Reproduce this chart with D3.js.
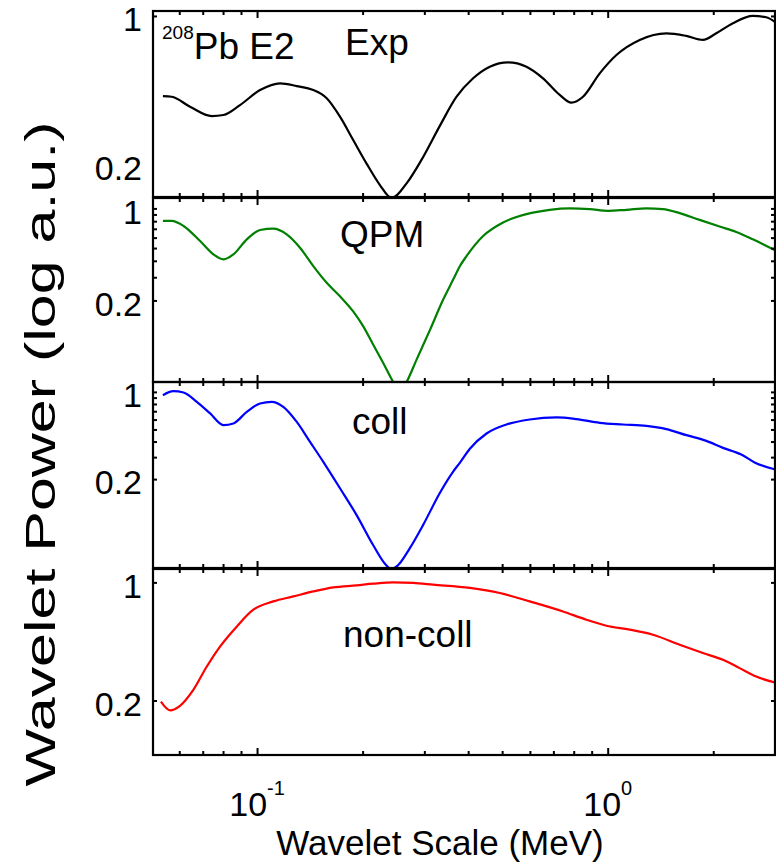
<!DOCTYPE html>
<html>
<head>
<meta charset="utf-8">
<script src="https://cdn.jsdelivr.net/npm/d3@7/dist/d3.min.js"></script>
<style>
	body { margin: 0; background: #fff; }
	svg text { font-family: 'Liberation Sans', Arial, sans-serif; fill: #000; }
</style>
</head>
<body>
<svg id="chart" width="776" height="865"></svg>
<script>
// wavelet scale (MeV) / power (a.u.)
const expScale = [0.0539, 0.0571, 0.0644, 0.0743, 0.0802, 0.0894, 0.102, 0.1163, 0.1298, 0.1447, 0.158, 0.1724, 0.188, 0.2053, 0.2241, 0.2419, 0.267, 0.2977, 0.3321, 0.3707, 0.4133, 0.4611, 0.52, 0.5866, 0.654, 0.7297, 0.788, 0.8504, 0.949, 1.059, 1.234, 1.47, 1.676, 1.869, 2.04, 2.275, 2.594, 2.832, 2.99];
const expPower = [0.421, 0.418, 0.375, 0.339, 0.343, 0.382, 0.449, 0.483, 0.469, 0.449, 0.411, 0.337, 0.262, 0.203, 0.161, 0.14, 0.164, 0.218, 0.305, 0.418, 0.51, 0.578, 0.606, 0.578, 0.51, 0.426, 0.392, 0.418, 0.538, 0.656, 0.772, 0.829, 0.806, 0.772, 0.829, 0.924, 1.0, 0.986, 0.94];

const qpmScale = [0.0539, 0.0571, 0.0617, 0.0688, 0.0751, 0.0802, 0.0856, 0.0935, 0.102, 0.1113, 0.1215, 0.1326, 0.1447, 0.158, 0.1724, 0.188, 0.2009, 0.2145, 0.229, 0.2445, 0.2555, 0.267, 0.2851, 0.3111, 0.3395, 0.3625, 0.3787, 0.3957, 0.4413, 0.5031, 0.5866, 0.6835, 0.7794, 0.8887, 1.002, 1.131, 1.289, 1.437, 1.604, 1.829, 2.085, 2.326, 2.594, 2.99];
const qpmPower = [0.804, 0.804, 0.736, 0.565, 0.447, 0.41, 0.447, 0.582, 0.686, 0.703, 0.636, 0.503, 0.364, 0.272, 0.215, 0.165, 0.127, 0.092, 0.067, 0.048, 0.04, 0.048, 0.071, 0.119, 0.203, 0.288, 0.364, 0.434, 0.617, 0.782, 0.905, 0.976, 1.0, 0.988, 0.959, 0.976, 1.0, 0.988, 0.921, 0.818, 0.728, 0.662, 0.582, 0.483];

const collScale = [0.0539, 0.0577, 0.0617, 0.0673, 0.0735, 0.0802, 0.0856, 0.0935, 0.102, 0.1101, 0.1188, 0.1298, 0.1416, 0.1545, 0.1724, 0.1923, 0.2145, 0.2316, 0.2419, 0.2527, 0.2728, 0.2977, 0.3321, 0.3625, 0.3787, 0.4045, 0.4513, 0.5145, 0.5994, 0.7142, 0.8145, 0.949, 1.105, 1.289, 1.47, 1.676, 1.911, 2.131, 2.404, 2.623, 2.99];
const collPower = [0.941, 1.013, 0.989, 0.832, 0.672, 0.541, 0.558, 0.692, 0.808, 0.832, 0.759, 0.575, 0.398, 0.275, 0.169, 0.103, 0.059, 0.042, 0.038, 0.041, 0.056, 0.086, 0.155, 0.23, 0.27, 0.35, 0.464, 0.548, 0.601, 0.624, 0.605, 0.565, 0.548, 0.534, 0.503, 0.45, 0.405, 0.356, 0.315, 0.272, 0.24];

const nonScale = [0.0532, 0.0565, 0.0603, 0.0658, 0.0719, 0.0785, 0.0876, 0.0976, 0.1113, 0.1269, 0.1447, 0.165, 0.1923, 0.2145, 0.2445, 0.2788, 0.3178, 0.4045, 0.4924, 0.5994, 0.7458, 0.8696, 0.9915, 1.155, 1.346, 1.604, 1.869, 2.131, 2.377, 2.652, 2.99];
const nonPower = [0.197, 0.175, 0.186, 0.231, 0.318, 0.418, 0.549, 0.689, 0.772, 0.826, 0.884, 0.934, 0.96, 0.982, 1.0, 0.992, 0.969, 0.927, 0.865, 0.772, 0.673, 0.601, 0.554, 0.525, 0.49, 0.428, 0.382, 0.348, 0.311, 0.277, 0.256];

const panelNames = ['Exp', 'QPM', 'coll', 'non-coll'];
const panelColors = ['#000000', '#008000', '#0000ff', '#ff0000'];
const yDomains = [[0.1415, 1.055], [0.048, 1.2], [0.0388, 1.2], [0.0952, 1.2]];
const yTickLabels = [1, 0.2];
const logMinor = [0.2, 0.3, 0.4, 0.5, 0.6, 0.7, 0.8, 0.9, 1];
const yTickMarks = [[1], logMinor, logMinor, [0.2, 1]];
const xDomain = [0.0505, 3.0];
const xMajor = [0.1, 1];
const xMinor = [0.06, 0.07, 0.08, 0.09, 0.2, 0.3, 0.4, 0.5, 0.6, 0.7, 0.8, 0.9, 2];
const xLabelExp = ['-1', '0'];

const series = [
	{ x: expScale, y: expPower },
	{ x: qpmScale, y: qpmPower },
	{ x: collScale, y: collPower },
	{ x: nonScale, y: nonPower },
];

const svg = d3.select('#chart');
const left = 153;
const right = 775;
const panelTop = [11, 198, 382, 569];
const panelBottom = [197, 382, 568, 755];

const xScale = d3.scaleLog().domain(xDomain).range([left, right]);

// label positions inside each panel [x, baseline]
const labelPos = [[345, 55], [340, 247], [352, 434], [343, 647]];

panelNames.forEach((name, i) => {
	const yScale = d3.scaleLog().domain(yDomains[i]).range([panelBottom[i], panelTop[i]]);
	const g = svg.append('g').attr('class', `panel panel-${i}`);

	g.append('clipPath')
		.attr('id', `clip-${i}`)
		.append('rect')
		.attr('x', left)
		.attr('y', panelTop[i])
		.attr('width', right - left)
		.attr('height', panelBottom[i] - panelTop[i]);

	const line = d3.line()
		.x(d => xScale(d[0]))
		.y(d => yScale(d[1]))
		.curve(d3.curveMonotoneX);

	const pts = series[i].x.map((v, k) => [v, series[i].y[k]]);
	g.append('path')
		.datum(pts)
		.attr('clip-path', `url(#clip-${i})`)
		.attr('d', line)
		.style('fill', 'none')
		.style('stroke', panelColors[i])
		.style('stroke-width', '2.2px');

	// x ticks, top and bottom, pointing inward
	const tickAxis = (axis, vals, len, y) => {
		g.append('g')
			.attr('class', 'xticks')
			.attr('transform', `translate(0, ${y})`)
			.call(axis(xScale).tickValues(vals).tickSize(-len).tickFormat(''))
			.call(s => s.select('.domain').remove())
			.selectAll('line').style('stroke-width', '2px');
	};
	tickAxis(d3.axisBottom, xMajor, 7, panelBottom[i]);
	tickAxis(d3.axisBottom, xMinor, 4, panelBottom[i]);
	tickAxis(d3.axisTop, xMajor, 7, panelTop[i]);
	tickAxis(d3.axisTop, xMinor, 4, panelTop[i]);

	// y ticks, left and right
	g.append('g')
		.attr('transform', `translate(${left}, 0)`)
		.call(d3.axisLeft(yScale).tickValues(yTickMarks[i]).tickSize(-4).tickFormat(''))
		.call(s => s.select('.domain').remove())
		.selectAll('line').style('stroke-width', '2px');
	g.append('g')
		.attr('transform', `translate(${right}, 0)`)
		.call(d3.axisRight(yScale).tickValues(yTickMarks[i]).tickSize(-4).tickFormat(''))
		.call(s => s.select('.domain').remove())
		.selectAll('line').style('stroke-width', '2px');

	g.selectAll('.ylabel')
		.data(yTickLabels)
		.join('text')
		.attr('class', 'ylabel')
		.attr('x', left - 11)
		.attr('y', d => yScale(d))
		.attr('dy', '0.45em')
		.attr('text-anchor', 'end')
		.style('font-size', '34px')
		.text(d => d);

	g.append('rect')
		.attr('x', left)
		.attr('y', panelTop[i])
		.attr('width', right - left)
		.attr('height', panelBottom[i] - panelTop[i])
		.style('fill', 'none')
		.style('stroke', '#000')
		.style('stroke-width', '2.2px');

	g.append('text')
		.attr('x', labelPos[i][0])
		.attr('y', labelPos[i][1])
		.style('font-size', '37px')
		.text(name);
});

// isotope label in the top panel
const iso = svg.append('text').attr('x', 162).attr('y', 59).style('font-size', '37px');
iso.append('tspan').attr('dy', -20).style('font-size', '19px').text('208');
iso.append('tspan').attr('dy', 20).text('Pb E2');

// x tick labels 10^n
svg.selectAll('.xlabel')
	.data(xMajor)
	.join('text')
	.attr('class', 'xlabel')
	.attr('x', d => xScale(d))
	.attr('y', 816)
	.attr('text-anchor', 'middle')
	.style('font-size', '34px')
	.each(function (d, i) {
		const t = d3.select(this);
		t.append('tspan').text('10');
		t.append('tspan').attr('dy', -21).style('font-size', '20px').text(xLabelExp[i]);
	});

svg.append('text')
	.attr('x', 440)
	.attr('y', 855)
	.attr('text-anchor', 'middle')
	.style('font-size', '35px')
	.text('Wavelet Scale (MeV)');

svg.append('text')
	.attr('transform', 'rotate(-90)')
	.attr('x', -454)
	.attr('y', 55)
	.attr('text-anchor', 'middle')
	.attr('textLength', 665)
	.attr('lengthAdjust', 'spacingAndGlyphs')
	.style('font-size', '42px')
	.text('Wavelet Power (log a.u.)');
</script>
</body>
</html>
